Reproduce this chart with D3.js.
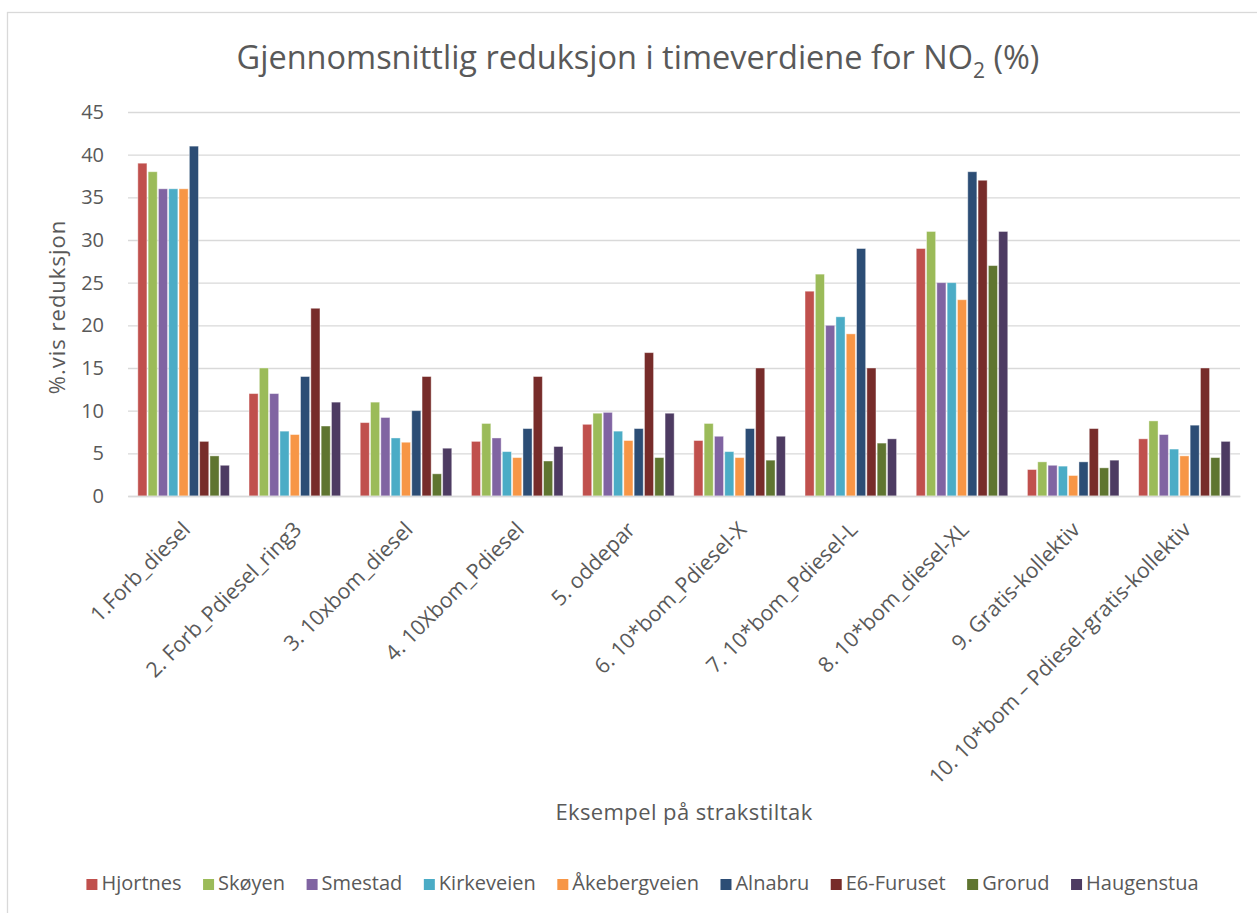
<!DOCTYPE html>
<html>
<head>
<meta charset="utf-8">
<script src="https://cdn.jsdelivr.net/npm/d3@7"></script>
<style>
  html, body { margin: 0; padding: 0; background: #fff; }
  svg { display: block; font-family: "Open Sans", "Noto Sans", sans-serif; }
</style>
</head>
<body>
<svg id="chart" width="1257" height="913"></svg>
<script>
// Measures (road-traffic actions) along the x axis
const categories = [
  "1.Forb_diesel",
  "2. Forb_Pdiesel_ring3",
  "3. 10xbom_diesel",
  "4. 10Xbom_Pdiesel",
  "5. oddepar",
  "6. 10*bom_Pdiesel-X",
  "7. 10*bom_Pdiesel-L",
  "8. 10*bom_diesel-XL",
  "9. Gratis-kollektiv",
  "10. 10*bom \u2013 Pdiesel-gratis-kollektiv"
];

// Measuring stations (one series each)
const stations = ["Hjortnes", "Skøyen", "Smestad", "Kirkeveien", "Åkebergveien",
                  "Alnabru", "E6-Furuset", "Grorud", "Haugenstua"];

// Average reduction (%) per station, one value per measure
const hjortnes     = [39, 12, 8.6, 6.4, 8.4, 6.5, 24, 29, 3.1, 6.7];
const skoyen       = [38, 15, 11, 8.5, 9.7, 8.5, 26, 31, 4.0, 8.8];
const smestad      = [36, 12, 9.2, 6.8, 9.8, 7.0, 20, 25, 3.6, 7.2];
const kirkeveien   = [36, 7.6, 6.8, 5.2, 7.6, 5.2, 21, 25, 3.5, 5.5];
const akebergveien = [36, 7.2, 6.3, 4.5, 6.5, 4.5, 19, 23, 2.4, 4.7];
const alnabru      = [41, 14, 10, 7.9, 7.9, 7.9, 29, 38, 4.0, 8.3];
const e6furuset    = [6.4, 22, 14, 14, 16.8, 15, 15, 37, 7.9, 15];
const grorud       = [4.7, 8.2, 2.6, 4.1, 4.5, 4.2, 6.2, 27, 3.3, 4.5];
const haugenstua   = [3.6, 11, 5.6, 5.8, 9.7, 7.0, 6.7, 31, 4.2, 6.4];

const seriesValues = [hjortnes, skoyen, smestad, kirkeveien, akebergveien,
                      alnabru, e6furuset, grorud, haugenstua];

const colors = ["#C0504D", "#9BBB59", "#8064A2", "#4BACC6", "#F79646",
                "#2C4D75", "#772C2A", "#5F7530", "#4D3B62"];

const yTicks = [0, 5, 10, 15, 20, 25, 30, 35, 40, 45];

const titleMain = "Gjennomsnittlig reduksjon i timeverdiene for NO";
const titleSub = "2";
const titleEnd = " (%)";
const yTitle = "%.vis reduksjon";
const xTitle = "Eksempel på strakstiltak";

// ---- layout ----
const textColor = "#595959";
const gridColor = "#D9D9D9";
const plot = { left: 128, right: 1240, top: 112, bottom: 496 };

const svg = d3.select("#chart");

// outer chart frame
svg.append("rect")
  .attr("x", 7.5).attr("y", 12.5)
  .attr("width", 1300).attr("height", 1000)
  .attr("fill", "none").attr("stroke", gridColor).attr("stroke-width", 1.3);

const y = d3.scaleLinear().domain([0, 45]).range([plot.bottom, plot.top]);

const x0 = d3.scaleBand()
  .domain(categories)
  .range([plot.left, plot.right])
  .paddingInner(0.166)
  .paddingOuter(0.083);

const x1 = d3.scaleBand()
  .domain(stations)
  .range([0, x0.bandwidth()]);

// gridlines + y labels
const yAxis = d3.axisLeft(y)
  .tickValues(yTicks)
  .tickSize(-(plot.right - plot.left))
  .tickPadding(24)
  .tickFormat(d3.format("d"));

const gy = svg.append("g")
  .attr("transform", `translate(${plot.left},0)`)
  .call(yAxis);
gy.select(".domain").remove();
gy.selectAll(".tick line").attr("stroke", gridColor).attr("stroke-width", 1.4);
gy.selectAll(".tick text")
  .attr("fill", textColor)
  .style("font-size", "20px")
  .style("font-family", "'Open Sans', sans-serif");

// bars
const groups = svg.append("g").selectAll("g")
  .data(categories)
  .join("g")
  .attr("transform", d => `translate(${x0(d)},0)`);

groups.selectAll("rect")
  .data((c, ci) => stations.map((s, si) => ({ s, si, v: seriesValues[si][ci] })))
  .join("rect")
  .attr("x", d => x1(d.s) + 0.6)
  .attr("width", x1.bandwidth() - 1.2)
  .attr("y", d => y(d.v))
  .attr("height", d => y(0) - y(d.v))
  .attr("fill", d => colors[d.si])
  .attr("stroke", "#ffffff")
  .attr("stroke-opacity", 0.45)
  .attr("stroke-width", 0.9);

// x axis line
const xAxis = d3.axisBottom(x0).tickSize(0).tickFormat("");
const gx = svg.append("g")
  .attr("transform", `translate(0,${plot.bottom})`)
  .call(xAxis);
gx.select(".domain").attr("stroke", gridColor).attr("stroke-width", 1.6);

// rotated category labels
svg.append("g").selectAll("text")
  .data(categories)
  .join("text")
  .attr("transform", d => `translate(${x0(d) + x0.bandwidth() / 2 + 8},${plot.bottom + 35}) rotate(-45)`)
  .attr("text-anchor", "end")
  .attr("fill", textColor)
  .style("font-size", "21.3px")
  .text(d => d);

// title
const title = svg.append("text")
  .attr("x", 638)
  .attr("y", 69)
  .attr("text-anchor", "middle")
  .attr("fill", textColor)
  .style("font-size", "32.5px");
title.append("tspan").text(titleMain);
title.append("tspan").text(titleSub).attr("dy", 9).style("font-size", "21px");
title.append("tspan").text(titleEnd).attr("dy", -9);

// axis titles
svg.append("text")
  .attr("transform", `translate(65,${(plot.top + plot.bottom) / 2 + 3}) rotate(-90)`)
  .attr("text-anchor", "middle")
  .attr("fill", textColor)
  .style("font-size", "22px")
  .style("letter-spacing", "1px")
  .text(yTitle);

svg.append("text")
  .attr("x", (plot.left + plot.right) / 2)
  .attr("y", 820)
  .attr("text-anchor", "middle")
  .attr("fill", textColor)
  .style("font-size", "22px")
  .style("letter-spacing", "0.4px")
  .text(xTitle);

// legend, laid out from measured text widths and centred
const legend = svg.append("g");
const items = legend.selectAll("g")
  .data(stations)
  .join("g");
items.append("rect")
  .attr("width", 11).attr("height", 11)
  .attr("y", -11)
  .attr("fill", (d, i) => colors[i]);
items.append("text")
  .attr("x", 15)
  .attr("y", 0)
  .attr("fill", textColor)
  .style("font-size", "20px")
  .text(d => d);

let cursor = 0;
const gap = 21.5;
items.each(function () {
  const w = this.querySelector("text").getComputedTextLength();
  d3.select(this).attr("transform", `translate(${cursor},0)`);
  cursor += 15 + w + gap;
});
const totalW = cursor - gap;
legend.attr("transform", `translate(${642.5 - totalW / 2},890)`);
</script>
</body>
</html>
